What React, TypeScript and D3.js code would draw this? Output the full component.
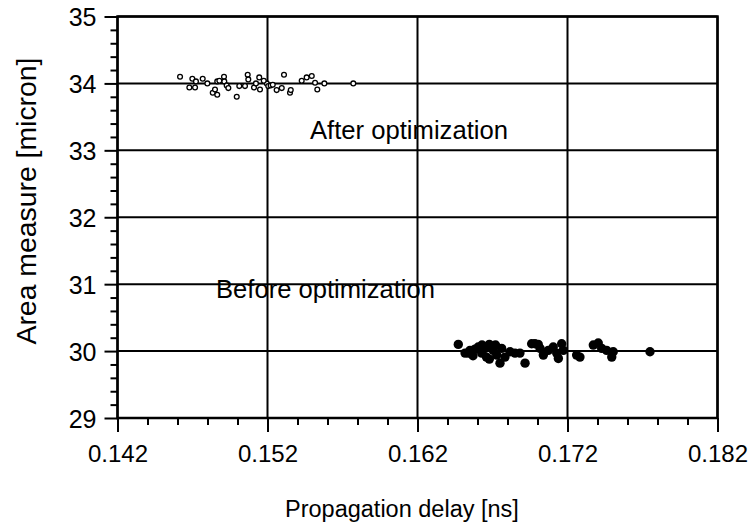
import React, { useEffect, useRef } from "react";
import * as d3 from "d3";

// after optimization (hollow circles)
const afterDelay = [
  0.14617, 0.14679, 0.14699, 0.14717, 0.14723, 0.14768, 0.14799, 0.14835, 0.1485, 0.14865,
  0.14865, 0.14879, 0.1491, 0.14912, 0.14928, 0.14939, 0.14995, 0.15012, 0.1505, 0.15068,
  0.15072, 0.1511, 0.15123, 0.15145, 0.1515, 0.15195, 0.15205, 0.15221, 0.15261, 0.15295,
  0.1531, 0.1535, 0.15355, 0.15428, 0.15461, 0.15495, 0.15517, 0.15532, 0.15579, 0.15772,
  0.15175, 0.15235,
];
const afterArea = [
  34.1, 33.94, 34.07, 33.94, 34.03, 34.07, 34.0, 33.86, 33.91, 33.83,
  34.03, 34.04, 34.1, 34.03, 33.97, 33.93, 33.8, 33.96, 33.96, 34.13,
  34.06, 33.94, 34.0, 34.09, 33.91, 34.0, 33.96, 33.97, 33.9, 33.93,
  34.13, 33.86, 33.9, 34.04, 34.09, 34.11, 34.01, 33.91, 34.0, 34.0,
  34.04, 33.98,
];

// before optimization (filled circles)
const beforeDelay = [
  0.16472, 0.16517, 0.16539, 0.1655, 0.16583, 0.16605, 0.16628, 0.1665, 0.16679, 0.16679,
  0.16705, 0.16728, 0.1675, 0.16761, 0.16783, 0.16817, 0.1685, 0.16883, 0.16917, 0.16961,
  0.16983, 0.17005, 0.17017, 0.17039, 0.17072, 0.17105, 0.17128, 0.17139, 0.17161, 0.17172,
  0.17261, 0.17283, 0.17372, 0.17405, 0.17428, 0.17461, 0.17495, 0.17505, 0.1775,
  0.1657, 0.1663, 0.1666, 0.1672,
];
const beforeArea = [
  30.1, 29.97, 29.97, 30.01, 30.03, 30.06, 29.97, 30.04, 30.1, 29.88,
  30.01, 29.94, 29.82, 30.04, 29.91, 29.99, 29.97, 29.97, 29.82, 30.11,
  30.11, 30.1, 30.04, 29.94, 30.01, 30.06, 29.97, 29.89, 30.11, 30.01,
  29.94, 29.91, 30.09, 30.12, 30.04, 30.01, 29.91, 29.99, 29.99,
  29.93, 30.09, 29.91, 30.09,
];

const xTicks = [0.142, 0.152, 0.162, 0.172, 0.182];
const yTicks = [29, 30, 31, 32, 33, 34, 35];

const width = 751;
const height = 526;
const font = "'Liberation Sans', Arial, Helvetica, sans-serif";

export default function App() {
  const ref = useRef<SVGSVGElement | null>(null);

  useEffect(() => {
    const svg = d3.select(ref.current);
    svg.selectAll("*").remove();

    const x = d3.scaleLinear().domain([0.142, 0.182]).range([117.5, 717.5]);
    const y = d3.scaleLinear().domain([29, 35]).range([418, 16.5]);

    // minor ticks, 5 steps between majors
    const xMinor = d3.range(0, 21).filter((i) => i % 5 !== 0).map((i) => 0.142 + i * 0.002);
    const yMinor = d3.range(0, 31).filter((i) => i % 5 !== 0).map((i) => 29 + i * 0.2);

    // grid
    const grid = svg.append("g").attr("stroke", "#000").attr("stroke-width", 2);
    grid
      .selectAll("line.h")
      .data(yTicks)
      .enter()
      .append("line")
      .attr("x1", x(0.142))
      .attr("x2", x(0.182))
      .attr("y1", (d) => y(d))
      .attr("y2", (d) => y(d));
    grid
      .selectAll("line.v")
      .data(xTicks)
      .enter()
      .append("line")
      .attr("y1", y(29))
      .attr("y2", y(35))
      .attr("x1", (d) => x(d))
      .attr("x2", (d) => x(d));

    // x axis
    const xAxis = svg.append("g").attr("transform", `translate(0,${y(29)})`);
    xAxis.call(
      d3.axisBottom(x).tickValues(xTicks).tickSize(14).tickFormat(d3.format(".3f"))
    );
    xAxis.append("g").call(d3.axisBottom(x).tickValues(xMinor).tickSize(7).tickFormat(() => ""));
    xAxis.selectAll("path").remove();
    xAxis.selectAll("line").attr("stroke", "#000").attr("stroke-width", 2);
    xAxis
      .selectAll("text")
      .attr("y", 44)
      .attr("dy", 0)
      .attr("fill", "#000")
      .style("font-family", font)
      .style("font-size", "24px");

    // y axis
    const yAxis = svg.append("g").attr("transform", `translate(${x(0.142)},0)`);
    yAxis.call(d3.axisLeft(y).tickValues(yTicks).tickSize(13).tickFormat(d3.format("d")));
    yAxis.append("g").call(d3.axisLeft(y).tickValues(yMinor).tickSize(7).tickFormat(() => ""));
    yAxis.selectAll("path").remove();
    yAxis.selectAll("line").attr("stroke", "#000").attr("stroke-width", 2);
    yAxis
      .selectAll("text")
      .attr("x", -21)
      .attr("dy", "0.36em")
      .attr("fill", "#000")
      .style("font-family", font)
      .style("font-size", "25px");

    // frame
    svg
      .append("rect")
      .attr("x", x(0.142))
      .attr("y", y(35))
      .attr("width", x(0.182) - x(0.142))
      .attr("height", y(29) - y(35))
      .attr("fill", "none")
      .attr("stroke", "#000")
      .attr("stroke-width", 2.5);

    // points
    svg
      .append("g")
      .selectAll("circle")
      .data(afterDelay.map((d, i) => [d, afterArea[i]]))
      .enter()
      .append("circle")
      .attr("cx", (d) => x(d[0]))
      .attr("cy", (d) => y(d[1]))
      .attr("r", 2.4)
      .attr("fill", "#fff")
      .attr("stroke", "#000")
      .attr("stroke-width", 1.3);

    svg
      .append("g")
      .selectAll("circle")
      .data(beforeDelay.map((d, i) => [d, beforeArea[i]]))
      .enter()
      .append("circle")
      .attr("cx", (d) => x(d[0]))
      .attr("cy", (d) => y(d[1]))
      .attr("r", 4.7)
      .attr("fill", "#000");

    // annotations
    const txt = (s: string, tx: number, ty: number, size: number, len?: number) => {
      const t = svg
        .append("text")
        .attr("x", tx)
        .attr("y", ty)
        .attr("fill", "#000")
        .style("font-family", font)
        .style("font-size", `${size}px`)
        .text(s);
      if (len) t.attr("textLength", len).attr("lengthAdjust", "spacingAndGlyphs");
      return t;
    };
    txt("After optimization", 310, 139, 25, 198);
    txt("Before optimization", 216, 298, 25, 219);
    txt("Propagation delay [ns]", 285, 517, 23.5);

    svg
      .append("text")
      .attr("transform", "translate(36,201) rotate(-90)")
      .attr("text-anchor", "middle")
      .attr("fill", "#000")
      .attr("textLength", 287)
      .attr("lengthAdjust", "spacingAndGlyphs")
      .style("font-family", font)
      .style("font-size", "28px")
      .text("Area measure [micron]");
  }, []);

  return (
    <svg
      ref={ref}
      width={width}
      height={height}
      style={{ position: "absolute", left: 0, top: 0, background: "#fff" }}
    />
  );
}
